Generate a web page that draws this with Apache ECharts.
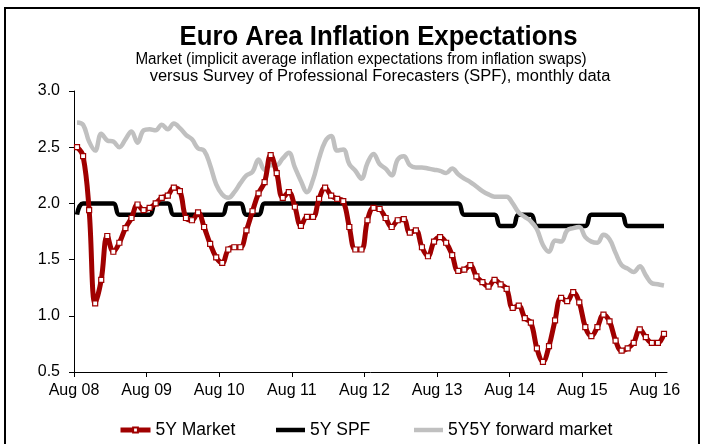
<!DOCTYPE html>
<html><head><meta charset="utf-8">
<script src="https://cdn.jsdelivr.net/npm/echarts@6/dist/echarts.min.js"></script>
<style>html,body{margin:0;padding:0;background:#fff}#c{width:704px;height:444px}</style>
</head><body><div id="c"></div>
<script>
const xTickLabels = ['Aug 08','Aug 09','Aug 10','Aug 11','Aug 12','Aug 13','Aug 14','Aug 15','Aug 16'];
const seriesNames = ['5Y Market','5Y SPF','5Y5Y forward market'];
// monthly values, Aug 2008 .. Sep 2016
const market = [2.50,2.42,1.94,1.11,1.32,1.71,1.57,1.65,1.78,1.87,1.99,1.94,1.96,2.00,2.05,2.07,2.14,2.11,1.87,1.85,
  1.92,1.79,1.64,1.52,1.47,1.59,1.61,1.61,1.76,1.93,2.09,2.19,2.43,2.27,2.05,2.10,1.97,1.80,1.88,1.88,
  2.04,2.14,2.07,2.04,2.02,1.79,1.59,1.59,1.85,1.96,1.95,1.87,1.79,1.85,1.86,1.74,1.76,1.61,1.53,1.66,
  1.70,1.65,1.54,1.40,1.41,1.45,1.35,1.30,1.26,1.32,1.28,1.24,1.07,1.09,0.98,0.94,0.71,0.59,0.73,0.96,
  1.16,1.13,1.21,1.12,0.90,0.82,0.90,1.01,0.95,0.78,0.69,0.71,0.76,0.88,0.81,0.76,0.76,0.84];
const spf = [1.9,2.0,2.0,2.0,2.0,2.0,2.0,1.9,1.9,1.9,1.9,1.9,1.9,2.0,2.0,2.0,1.9,1.9,1.9,1.9,
  1.9,1.9,1.9,1.9,1.9,2.0,2.0,2.0,1.9,1.9,1.9,2.0,2.0,2.0,2.0,2.0,2.0,2.0,2.0,2.0,
  2.0,2.0,2.0,2.0,2.0,2.0,2.0,2.0,2.0,2.0,2.0,2.0,2.0,2.0,2.0,2.0,2.0,2.0,2.0,2.0,
  2.0,2.0,2.0,2.0,1.9,1.9,1.9,1.9,1.9,1.9,1.8,1.8,1.8,1.9,1.9,1.9,1.8,1.8,1.8,1.8,
  1.8,1.8,1.8,1.8,1.8,1.9,1.9,1.9,1.9,1.9,1.9,1.8,1.8,1.8,1.8,1.8,1.8,1.8];
const forward = [2.72,2.70,2.55,2.47,2.62,2.56,2.55,2.50,2.57,2.64,2.54,2.65,2.66,2.65,2.70,2.66,2.71,2.67,2.61,2.57,
  2.49,2.47,2.34,2.17,2.08,2.05,2.10,2.18,2.25,2.28,2.39,2.30,2.34,2.34,2.40,2.45,2.32,2.20,2.10,2.21,
  2.40,2.55,2.60,2.47,2.48,2.35,2.29,2.22,2.36,2.44,2.35,2.31,2.25,2.39,2.42,2.34,2.32,2.32,2.31,2.30,
  2.29,2.27,2.31,2.26,2.22,2.19,2.15,2.11,2.08,2.06,2.06,2.06,2.00,1.92,1.88,1.84,1.77,1.63,1.57,1.67,
  1.66,1.76,1.78,1.79,1.70,1.66,1.65,1.72,1.68,1.56,1.45,1.42,1.39,1.44,1.36,1.29,1.28,1.27];

const FONT = 'Liberation Sans';
const RED = '#A00000', GREY = '#C0C0C0';
const toPts = arr => arr.map((v, i) => [i + 0.5, v]);
const tickPos = xTickLabels.map((_, k) => k * 12);
const legText = {fontSize: 17.5, fontFamily: FONT, color: '#000'};

const chart = echarts.init(document.getElementById('c'), null, {renderer: 'canvas'});
chart.setOption({
  animation: false,
  backgroundColor: '#fff',
  textStyle: {fontFamily: FONT, color: '#000'},
  graphic: [
    {type: 'rect', shape: {x: 5, y: 8, width: 694, height: 460}, style: {fill: 'none', stroke: '#000', lineWidth: 2}},
    {type: 'text', x: 378.5, y: 37, scaleX: 0.92, style: {text: 'Euro Area Inflation Expectations', font: 'bold 28px ' + FONT, fill: '#000', textAlign: 'center', textVerticalAlign: 'middle'}},
    {type: 'text', x: 361, y: 60, scaleX: 0.95, style: {text: 'Market (implicit average inflation expectations from inflation swaps)', font: '16px ' + FONT, fill: '#000', textAlign: 'center', textVerticalAlign: 'middle'}},
    {type: 'text', x: 380, y: 77, scaleX: 1.03, style: {text: 'versus Survey of Professional Forecasters (SPF), monthly data', font: '16px ' + FONT, fill: '#000', textAlign: 'center', textVerticalAlign: 'middle'}}
  ],
  grid: {left: 74, right: 37, top: 91, bottom: 72, containLabel: false},
  legend: [
    {data: [seriesNames[0]], left: 113, top: 416, itemWidth: 30, itemHeight: 6, itemGap: 0, textStyle: legText,
      lineStyle: {width: 5}},
    {data: [{name: seriesNames[1], icon: 'rect'}], left: 271, top: 416, itemWidth: 29, itemHeight: 4.5, itemGap: 0, textStyle: legText},
    {data: [{name: seriesNames[2], icon: 'rect'}], left: 409, top: 416, itemWidth: 29, itemHeight: 4.5, itemGap: 0, textStyle: legText}
  ],
  xAxis: {
    type: 'value', min: 0, max: 98,
    axisLine: {show: true, onZero: false, lineStyle: {color: '#000', width: 1}},
    axisTick: {show: true, length: 5, customValues: tickPos, lineStyle: {color: '#000'}},
    axisLabel: {customValues: tickPos, fontSize: 16, color: '#000', fontFamily: FONT, margin: 11,
      formatter: v => xTickLabels[Math.round(v / 12)] || ''},
    splitLine: {show: false}
  },
  yAxis: {
    type: 'value', min: 0.5, max: 3.0, interval: 0.5,
    axisLine: {show: true, lineStyle: {color: '#000', width: 1}},
    axisTick: {show: true, length: 5, lineStyle: {color: '#000'}},
    axisLabel: {fontSize: 16, color: '#000', fontFamily: FONT, margin: 14, formatter: v => v.toFixed(1)},
    splitLine: {show: false}
  },
  series: [
    {name: seriesNames[0], type: 'line', data: toPts(market), smooth: 0.4, z: 4,
      symbol: 'rect', symbolSize: 5, showSymbol: true,
      lineStyle: {color: RED, width: 5},
      itemStyle: {color: '#fff', borderColor: RED, borderWidth: 1.2}},
    {name: seriesNames[1], type: 'line', data: toPts(spf), smooth: 0.5, z: 2, symbol: 'none',
      lineStyle: {color: '#000', width: 4.5}, itemStyle: {color: '#000'}},
    {name: seriesNames[2], type: 'line', data: toPts(forward), smooth: 0.4, z: 3, symbol: 'none',
      lineStyle: {color: GREY, width: 4.5}, itemStyle: {color: GREY}}
  ]
});
</script></body></html>
